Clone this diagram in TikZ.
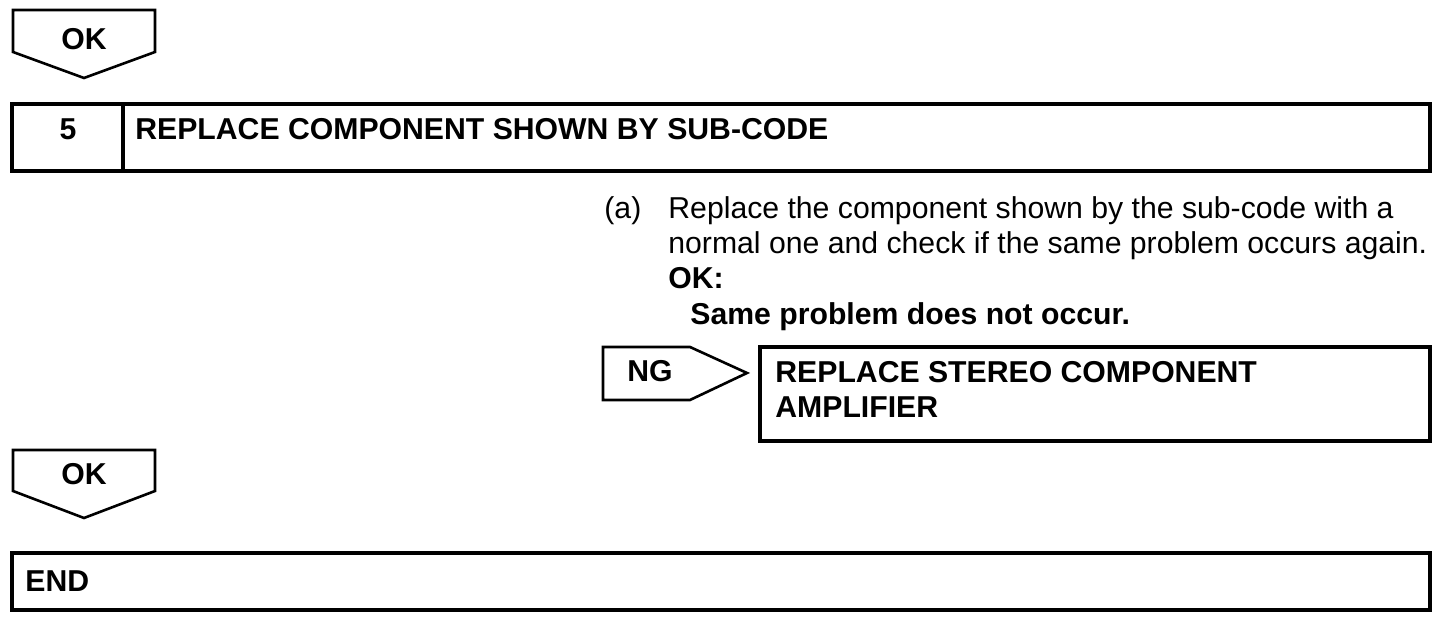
\documentclass[tikz,border=0pt]{standalone}
\usepackage{fontspec}
\setmainfont{Liberation Sans}
\tikzset{
  boxline/.style={line width=2pt},
  tagline/.style={line width=1.3pt,line join=miter},
  capfont/.style={font=\fontsize{15.1}{18}\selectfont\bfseries},
  bodyfont/.style={font=\fontsize{15.1}{18}\selectfont},
}
\begin{document}
\begin{tikzpicture}[x=0.5pt,y=-0.5pt,every node/.style={inner sep=0pt}]

\useasboundingbox (0,0) rectangle (1456,624); %same frame as the 1456x624 page

%Shape: Tag [id:okfirst] 
\draw [tagline] (13,10) -- (155,10) -- (155,52) -- (84,78) -- (13,52) -- cycle ;
%Shape: Rectangle [id:stepfive] 
\draw [boxline] (12,104) rectangle (1430,171) ;
%Straight Lines [id:stepdivider] 
\draw [boxline] (122.5,104) -- (122.5,171) ;
%Shape: Tag [id:ngtag] 
\draw [tagline] (603,347) -- (690,347) -- (747,373) -- (690,400) -- (603,400) -- cycle ;
%Shape: Rectangle [id:ampbox] 
\draw [boxline] (760,347) rectangle (1430,441) ;
%Shape: Tag [id:oksecond] 
\draw [tagline] (13,450) -- (155,450) -- (155,491) -- (84,518) -- (13,491) -- cycle ;
%Shape: Rectangle [id:endbox] 
\draw [boxline] (12,553) rectangle (1430,610) ;

% Text Node
\node (okone) [capfont,anchor=base] at (84,50) {OK};
% Text Node
\node (stepno) [capfont,anchor=base] at (68,140) {5};
% Text Node
\node (steptitle) [capfont,anchor=base west] at (135,140) {REPLACE COMPONENT SHOWN BY SUB-CODE};
% Text Node
\node (itema) [bodyfont,anchor=base west] at (604,219) {(a)};
\node (linea) [bodyfont,anchor=base west] at (668,219) {Replace the component shown by the sub-code with a};
\node (lineb) [bodyfont,anchor=base west] at (668,254) {normal one and check if the same problem occurs again.};
\node (okhead) [capfont,anchor=base west] at (668,289) {OK:};
\node (okline) [capfont,anchor=base west] at (690,325) {Same problem does not occur.};
% Text Node
\node (ng) [capfont,anchor=base west] at (627,382) {NG};
% Text Node
\node (ampone) [capfont,anchor=base west] at (775,383) {REPLACE STEREO COMPONENT};
\node (amptwo) [capfont,anchor=base west] at (775,418) {AMPLIFIER};
% Text Node
\node (oktwo) [capfont,anchor=base] at (84,485) {OK};
% Text Node
\node (endtext) [capfont,anchor=base west] at (25,592) {END};
\end{tikzpicture}
\end{document}
